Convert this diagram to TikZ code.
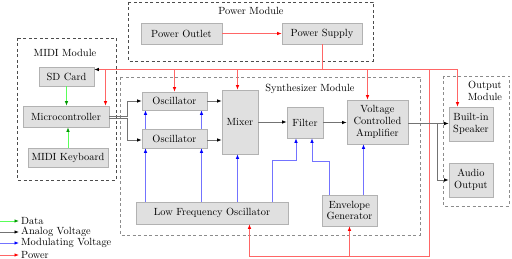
\documentclass[tikz,border=0pt]{standalone}
\usetikzlibrary{arrows.meta,backgrounds}
\begin{document}
\begin{tikzpicture}[x=1pt,y=-1pt,
  txt/.style={font=\fontsize{10.4}{11.8}\selectfont, align=center},
  blk/.style={txt, draw=black!30, fill=black!12, line width=0.7pt, inner sep=0pt},
  module/.style={dashed, dash pattern=on 3pt off 2.5pt, line width=0.6pt},
  pw/.style={-{Latex[length=4.5pt,width=3.5pt,color=red]}, draw=red!60, line width=0.8pt},
  pwline/.style={draw=red!60, line width=0.8pt},
  data/.style={-{Latex[length=4.5pt,width=3.5pt,color=green!60!black]}, draw=green!65, line width=0.8pt},
  an/.style={-{Latex[length=4.5pt,width=3.5pt,color=black]}, draw=black!55, line width=0.8pt},
  md/.style={-{Latex[length=4.5pt,width=3.5pt,color=blue]}, draw=blue!55, line width=0.8pt},
  lgd/.style={txt, anchor=west, inner sep=2pt}]
\useasboundingbox (0,0) rectangle (512,259);

% ---- module frames ----
\draw[module, draw=black!70] (128,2) rectangle (373,61);
\node[txt] (tPower) at (251,11) {Power Module};
\draw[module, draw=black!70] (17,38) rectangle (116,180);
\node[txt] (tMidi) at (65,53) {MIDI Module};
\draw[module, draw=black!45] (120,77) rectangle (420,235);
\node[txt] (tSynth) at (310,89) {Synthesizer Module};
\draw[module, draw=black!45] (443,76) rectangle (509,206);
\node[txt] (tOut) at (485,91) {Output\\Module};

% ---- blocks ----
\node[blk, minimum width=81, minimum height=21] (outlet) at (181.5,33.5) {Power Outlet};
\node[blk, minimum width=80, minimum height=21] (supply) at (322,33.5) {Power Supply};
\node[blk, minimum width=55, minimum height=19] (sd) at (66.5,76.5) {SD Card};
\node[blk, minimum width=86, minimum height=21] (micro) at (66,116.5) {Microcontroller};
\node[blk, minimum width=80, minimum height=19] (keyb) at (68,157.5) {MIDI Keyboard};
\node[blk, minimum width=65, minimum height=18] (osc1) at (174.5,101) {Oscillator};
\node[blk, minimum width=65, minimum height=19] (osc2) at (174.5,138.5) {Oscillator};
\node[blk, minimum width=36, minimum height=64] (mixer) at (240,122) {Mixer};
\node[blk, minimum width=36, minimum height=31] (filter) at (305,122.5) {Filter};
\node[blk, minimum width=61, minimum height=44] (vca) at (377.5,122) {Voltage\\Controlled\\Amplifier};
\node[blk, minimum width=44, minimum height=34] (speaker) at (471,124) {Built-in\\Speaker};
\node[blk, minimum width=44, minimum height=34] (audio) at (471,180) {Audio\\Output};
\node[blk, minimum width=152, minimum height=22] (lfo) at (212,213) {Low Frequency Oscillator};
\node[blk, minimum width=55, minimum height=31] (env) at (349.5,210.5) {Envelope\\Generator};

% ---- power distribution ----
\coordinate (bus) at (0,69.5);
\coordinate (pwbot) at (429.5,256);
\draw[pw] (outlet.east) -- (supply.west);
\coordinate (pSd) at (sd.east |- bus);
\draw[pwline] (supply.south) |- ([xshift=4pt]pSd);
\draw[an, draw=black] ([xshift=5pt]pSd) -- (pSd);
\coordinate (tapMicro) at (105.5,69);
\draw[pw] (tapMicro |- bus) -- (tapMicro |- micro.north);
\draw[pw] (osc1.north |- bus) -- (osc1.north);
\coordinate (pMix) at ([xshift=-2.5pt]mixer.north);
\draw[pw] (pMix |- bus) -- (pMix);
\coordinate (pVca) at ([xshift=-10pt]vca.north);
\draw[pw] (pVca |- bus) -- (pVca);
\coordinate (pSpk) at ([xshift=-13.5pt]speaker.north);
\draw[pw] (supply.south) |- (pSpk |- bus) -- (pSpk);
\coordinate (pLfo) at ([xshift=37.5pt]lfo.south);
\draw[pw] (pwbot |- bus) -- (pwbot) -| (pLfo);
\draw[pw] (env.south |- pwbot) -- (env.south);

% ---- data ----
\draw[data] (sd.south) -- (sd.south |- micro.north);
\draw[data] (keyb.north) -- (keyb.north |- micro.south);

% ---- analog signal path ----
\draw[an] (micro.east) -- ++(18,0) |- (osc1.west);
\draw[an] ([yshift=-1.5pt]micro.east) -- ++(18,0) |- ([yshift=-1.5pt]osc2.west);
\draw[an] (osc1.east) -- (osc1.east -| mixer.west);
\draw[an] ([yshift=-1.5pt]osc2.east) -- ([yshift=-1.5pt]osc2.east -| mixer.west);
\draw[an] (mixer.east) -- (mixer.east -| filter.west);
\draw[an] (filter.east) -- (filter.east -| vca.west);
\draw[an] ([yshift=-1.5pt]vca.east) -- ([yshift=-1.5pt]vca.east -| speaker.west);
\draw[an] ([yshift=-1.5pt]vca.east) -- ++(29,0) |- (audio.west);

% ---- modulation ----
\begin{scope}[on background layer]
\foreach \dx/\nm in {-29/a, 27/b} {
  \coordinate (m1\nm) at ([xshift=\dx pt]osc1.south);
  \draw[md] (m1\nm |- lfo.north) -- (m1\nm);
}
\end{scope}
\foreach \dx/\nm in {-29/a, 27/b} {
  \coordinate (m2\nm) at ([xshift=\dx pt]osc2.south);
  \draw[md] (m2\nm |- lfo.north) -- (m2\nm);
}
\coordinate (mMix) at ([xshift=-2.5pt]mixer.south);
\draw[md] (mMix |- lfo.north) -- (mMix);
\coordinate (fA) at ([xshift=-9pt]filter.south);
\draw[md] ([xshift=60pt]lfo.north) |- ([yshift=-22pt]fA) -- (fA);
\coordinate (fB) at ([xshift=7pt]filter.south);
\draw[md] ([xshift=-20.5pt]env.north) |- ([yshift=-23pt]fB) -- (fB);
\coordinate (mVca) at ([xshift=-14pt]vca.south);
\draw[md] (mVca |- env.north) -- (mVca);

% ---- legend ----
\node[lgd] (lgData) at (19,221) {Data};
\node[lgd] (lgAn) at (19,232) {Analog Voltage};
\node[lgd] (lgMod) at (19,243) {Modulating Voltage};
\node[lgd] (lgPw) at (19,255) {Power};
\coordinate (l1) at (0,221);
\coordinate (l2) at (0,232);
\coordinate (l3) at (0,243);
\coordinate (l4) at (0,255);
\draw[data] (l1) -- (lgData.west);
\draw[an] (l2) -- (lgAn.west);
\draw[md] (l3) -- (lgMod.west);
\draw[pw] (l4) -- (lgPw.west);
\end{tikzpicture}
\end{document}
